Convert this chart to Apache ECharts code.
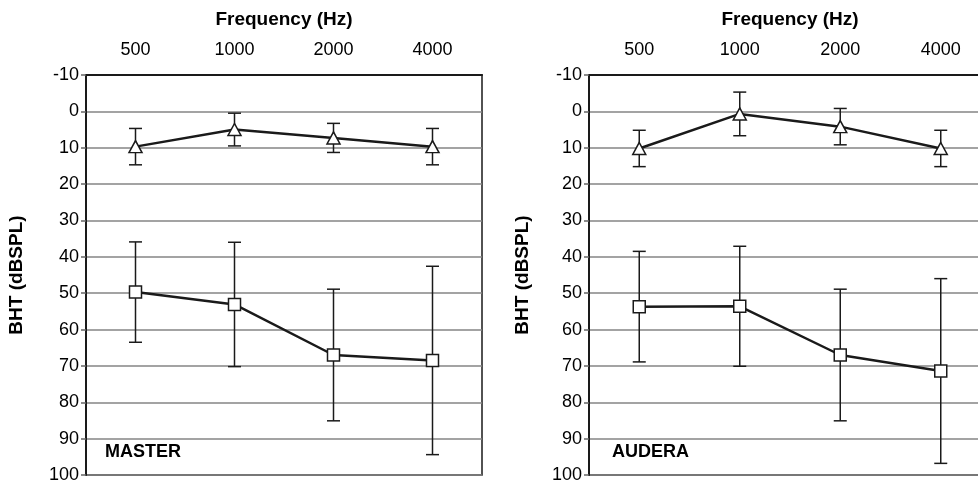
<!DOCTYPE html>
<html>
<head>
<meta charset="utf-8">
<script src="https://cdn.jsdelivr.net/npm/echarts@6/dist/echarts.min.js"></script>
<style>
html, body { margin: 0; padding: 0; background: #fff; }
#main { width: 978px; height: 482px; }
</style>
</head>
<body>
<div id="main"></div>
<script>
// 频率（类别）
var freqs = ['500', '1000', '2000', '4000'];
// 纵轴刻度
var yMin = -10, yMax = 100, yStep = 10;

// MASTER：三角 = 上面一组，方块 = 下面一组（均值 + 误差）
var masterTri = [9.7, 5, 7.3, 9.7];
var masterTriErr = [5, 4.5, 4, 5];
var masterSq = [49.7, 53.1, 67, 68.5];
var masterSqErr = [13.8, 17.1, 18.1, 25.9];

// AUDERA
var auderaTri = [10.2, 0.7, 4.2, 10.2];
var auderaTriErr = [5, 6, 5, 5];
var auderaSq = [53.7, 53.6, 67, 71.4];
var auderaSqErr = [15.2, 16.5, 18.1, 25.4];

var ink = '#1a1a1a';
var font = 'Arial, "Liberation Sans", sans-serif';

function errData(mean, err) {
    return mean.map(function (m, i) { return [i, m - err[i], m + err[i]]; });
}

function errorSeries(idx, data) {
    return {
        type: 'custom',
        xAxisIndex: idx,
        yAxisIndex: idx,
        z: 2,
        silent: true,
        data: data,
        renderItem: function (params, api) {
            var top = api.coord([api.value(0), api.value(1)]);
            var bot = api.coord([api.value(0), api.value(2)]);
            var w = 6.5;
            var st = { stroke: ink, lineWidth: 1.5 };
            return {
                type: 'group',
                children: [
                    { type: 'line', shape: { x1: top[0], y1: top[1], x2: bot[0], y2: bot[1] }, style: st },
                    { type: 'line', shape: { x1: top[0] - w, y1: top[1], x2: top[0] + w, y2: top[1] }, style: st },
                    { type: 'line', shape: { x1: bot[0] - w, y1: bot[1], x2: bot[0] + w, y2: bot[1] }, style: st }
                ]
            };
        }
    };
}

function lineSeries(idx, data, symbol, size) {
    return {
        type: 'line',
        xAxisIndex: idx,
        yAxisIndex: idx,
        z: 5,
        data: data,
        symbol: symbol,
        symbolSize: size,
        showAllSymbol: true,
        lineStyle: { color: ink, width: 2.5 },
        itemStyle: { color: '#fff', borderColor: ink, borderWidth: 1.5 },
        silent: true,
        animation: false
    };
}

function xAxisOf(idx) {
    return {
        type: 'category',
        gridIndex: idx,
        position: 'top',
        data: freqs,
        name: 'Frequency (Hz)',
        nameLocation: 'middle',
        nameGap: 46,
        nameTextStyle: { color: '#000', fontSize: 19, fontWeight: 'bold', fontFamily: font },
        axisLine: { onZero: false, lineStyle: { color: ink, width: 2 } },
        axisTick: { length: 5, lineStyle: { color: '#666', width: 1.5 } },
        axisLabel: { color: '#000', fontSize: 18, fontFamily: font, margin: 16 },
        splitLine: { show: false }
    };
}

function yAxisOf(idx, gap) {
    return {
        type: 'value',
        gridIndex: idx,
        inverse: true,
        min: yMin,
        max: yMax,
        interval: yStep,
        name: 'BHT (dBSPL)',
        nameLocation: 'middle',
        nameGap: gap,
        nameRotate: 90,
        nameTextStyle: { color: '#000', fontSize: 19, fontWeight: 'bold', fontFamily: font },
        axisLine: { show: true, onZero: false, lineStyle: { color: ink, width: 2 } },
        axisTick: { show: true, length: 5, lineStyle: { color: '#666', width: 1.5 } },
        axisLabel: { color: '#000', fontSize: 18, fontFamily: font, margin: 7 },
        splitLine: { lineStyle: { color: '#858585', width: 1.5 } }
    };
}

var option = {
    animation: false,
    grid: [
        { left: 86, top: 75, width: 396, height: 400, outerBoundsMode: 'none', containLabel: false,
          show: true, borderColor: ink, borderWidth: 1.5, backgroundColor: 'transparent' },
        { left: 589, top: 75, width: 402, height: 400, outerBoundsMode: 'none', containLabel: false,
          show: true, borderColor: ink, borderWidth: 1.5, backgroundColor: 'transparent' }
    ],
    xAxis: [xAxisOf(0), xAxisOf(1)],
    yAxis: [yAxisOf(0, 60), yAxisOf(1, 57)],
    graphic: [
        { type: 'text', left: 105, top: 443, style: { text: 'MASTER', fill: '#000', font: 'bold 18px ' + font } },
        { type: 'text', left: 612, top: 443, style: { text: 'AUDERA', fill: '#000', font: 'bold 18px ' + font } }
    ],
    series: [
        errorSeries(0, errData(masterTri, masterTriErr)),
        errorSeries(0, errData(masterSq, masterSqErr)),
        lineSeries(0, masterTri, 'triangle', [13, 12]),
        lineSeries(0, masterSq, 'rect', 12),
        errorSeries(1, errData(auderaTri, auderaTriErr)),
        errorSeries(1, errData(auderaSq, auderaSqErr)),
        lineSeries(1, auderaTri, 'triangle', [13, 12]),
        lineSeries(1, auderaSq, 'rect', 12)
    ]
};

var myChart = echarts.init(document.getElementById('main'));
myChart.setOption(option);
</script>
</body>
</html>
